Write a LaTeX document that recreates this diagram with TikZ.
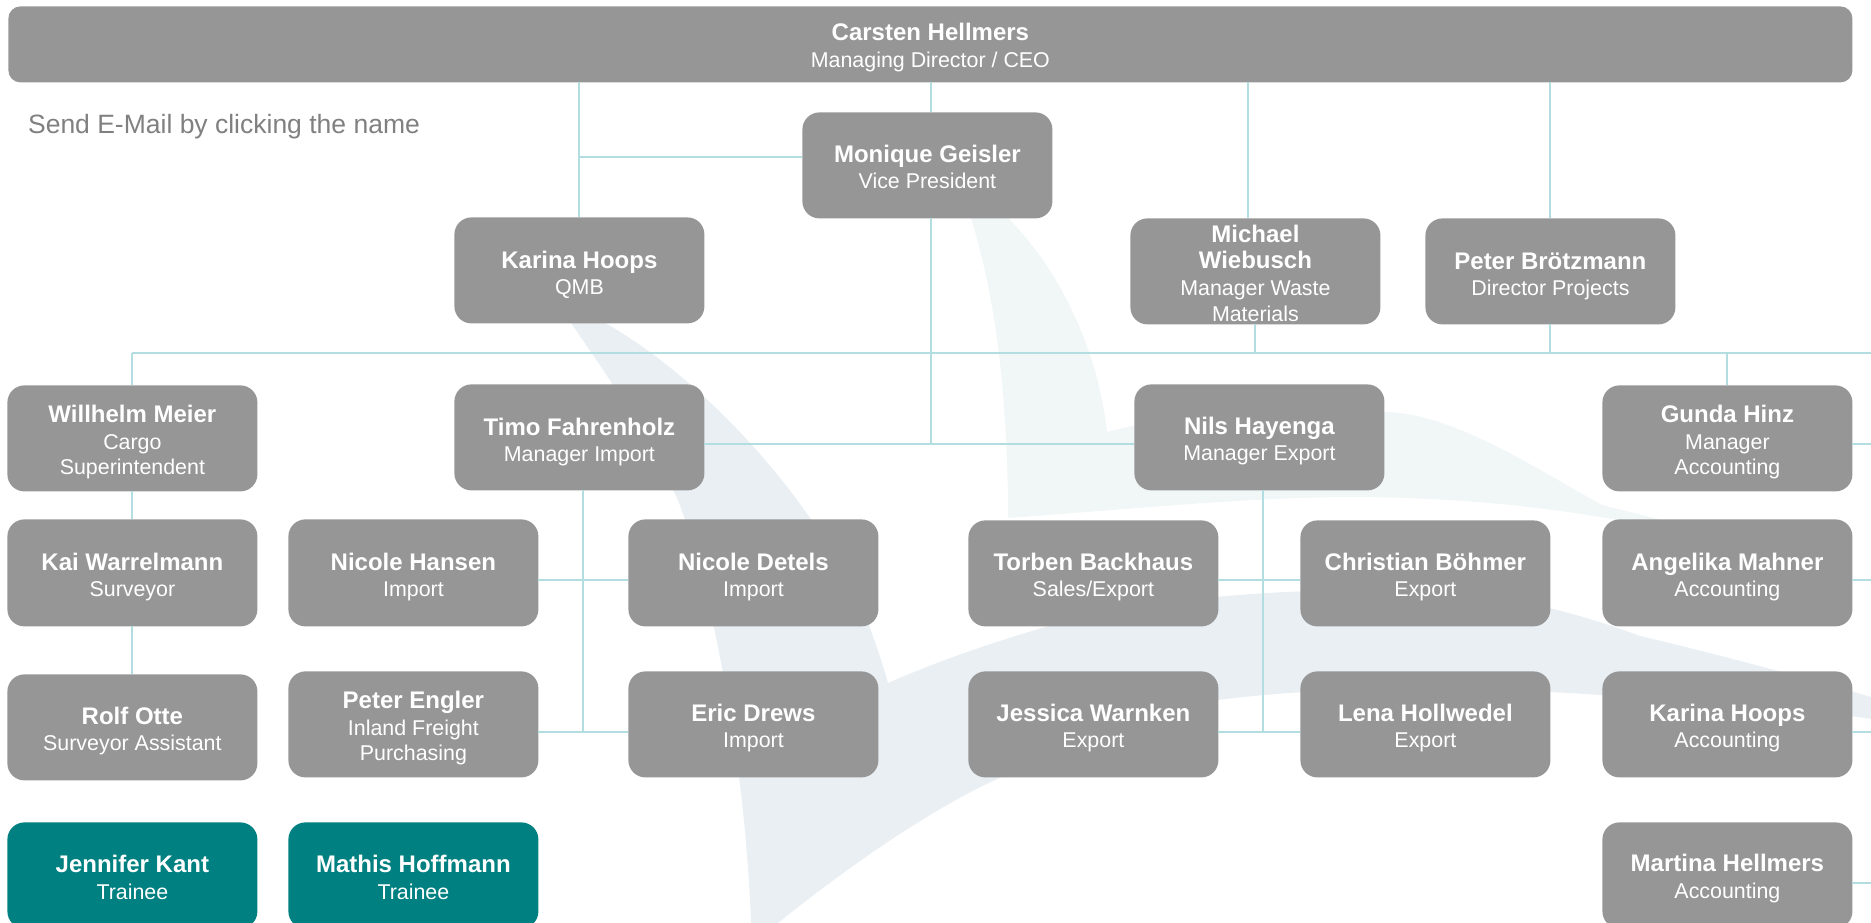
\documentclass[tikz,border=0pt]{standalone}
\usepackage{fontspec}
\setmainfont{Liberation Sans}
\definecolor{boxgray}{HTML}{969696}
\definecolor{traineeteal}{HTML}{008080}
\definecolor{linkline}{HTML}{B2DDE1}
\definecolor{sailA}{HTML}{E9EFF3}
\definecolor{sailB}{HTML}{F1F6F7}
\definecolor{hintgray}{HTML}{808080}
\newcommand{\nm}[1]{{\fontsize{24}{26.5}\selectfont\bfseries #1\par}}
\newcommand{\st}[1]{{\fontsize{21.4}{26.5}\selectfont #1\par}}
\newcommand{\sx}[1]{{\fontsize{21.4}{25}\selectfont #1\par}}
\newcommand{\pers}[8][staffbox]{%
  \pgfmathsetmacro{\bcx}{(#3+#5)/2}\pgfmathsetmacro{\bcy}{(#4+#6)/2}%
  \pgfmathsetmacro{\bw}{#5-#3}\pgfmathsetmacro{\bh}{#6-#4}%
  \pgfmathsetmacro{\brs}{\bcy-#7-0.6}%
  \node[#1,minimum width=\bw pt,minimum height=\bh pt] (#2) at (\bcx,\bcy)
    {\raisebox{\brs pt}[0pt][0pt]{\vtop{\hsize=\bw pt\parindent=0pt\parskip=0pt\lineskiplimit=-100pt\lineskip=0pt\centering #8}}};%
}
\tikzset{
  staffbox/.style={fill=boxgray,text=white,rounded corners=17pt,inner sep=0pt,outer sep=0pt,draw=none},
  traineebox/.style={staffbox,fill=traineeteal},
  ceobox/.style={staffbox,rounded corners=12pt},
  conn/.style={draw=linkline,line width=1.9pt},
  hint/.style={text=hintgray,font=\fontsize{26.5}{30}\selectfont,anchor=base west,inner sep=0pt}
}
\begin{document}
\begin{tikzpicture}[x=1pt,y=-1pt]
\useasboundingbox (0,0) rectangle (1871,923);
\clip (0,0) rectangle (1871,923);
% watermark
\fill[sailA] (555,300) .. controls (600,365) and (650,435) .. (679,503)
  .. controls (712,590) and (745,760) .. (751,923) -- (778,923)
  .. controls (850,865) and (930,810) .. (997,779)
  .. controls (1080,740) and (1150,712) .. (1218,700)
  .. controls (1340,684) and (1500,688) .. (1600,695)
  .. controls (1700,702) and (1800,708) .. (1871,719) -- (1871,697)
  .. controls (1800,676) and (1700,650) .. (1640,636)
  .. controls (1560,606) and (1480,590) .. (1400,590)
  .. controls (1280,588) and (1130,600) .. (1049,626)
  .. controls (1000,640) and (940,660) .. (888,683)
  .. controls (870,620) and (850,575) .. (810,518)
  .. controls (760,445) and (680,365) .. (605,323) -- cycle;
\fill[sailB] (945,150) .. controls (975,215) and (1008,320) .. (1008,518)
  .. controls (1120,510) and (1250,497) .. (1350,497)
  .. controls (1470,497) and (1600,510) .. (1730,545)
  .. controls (1690,525) and (1640,515) .. (1602,505)
  .. controls (1530,465) and (1450,412) .. (1383,412)
  .. controls (1300,405) and (1190,410) .. (1107,432)
  .. controls (1098,350) and (1060,270) .. (1008,218)
  .. controls (990,195) and (965,170) .. (945,150) -- cycle;
\begin{scope}[shift={(0.4,0.4)}]
% boxes
\pers[ceobox]{ceo}{8}{6}{1852}{82}{40}{\nm{Carsten Hellmers}\st{Managing Director / CEO}}
\pers{mon}{802}{112}{1052}{218}{161}{\nm{Monique Geisler}\st{Vice President}}
\pers{kq}{454}{217}{704}{323}{267}{\nm{Karina Hoops}\st{QMB}}
\pers{mw}{1130}{218}{1380}{324}{241}{\nm{Michael}\nm{Wiebusch}\st{Manager Waste}\st{Materials}}
\pers{pb}{1425}{218}{1675}{324}{268}{\nm{Peter Brötzmann}\st{Director Projects}}
\pers{wm}{7}{385}{257}{491}{421.7}{\nm{Willhelm Meier}\st{Cargo}\sx{Superintendent}}
\pers{tf}{454}{384}{704}{490}{434}{\nm{Timo Fahrenholz}\st{Manager Import}}
\pers{nh}{1134}{384}{1384}{490}{433}{\nm{Nils Hayenga}\st{Manager Export}}
\pers{gh}{1602}{385}{1852}{491}{421.7}{\nm{Gunda Hinz}\st{Manager}\sx{Accounting}}
\pers{kw}{7}{519}{257}{626}{569}{\nm{Kai Warrelmann}\st{Surveyor}}
\pers{nha}{288}{519}{538}{626}{569}{\nm{Nicole Hansen}\st{Import}}
\pers{nd}{628}{519}{878}{626}{569}{\nm{Nicole Detels}\st{Import}}
\pers{tb}{968}{520}{1218}{626}{569}{\nm{Torben Backhaus}\st{Sales/Export}}
\pers{cb}{1300}{520}{1550}{626}{569}{\nm{Christian Böhmer}\st{Export}}
\pers{am}{1602}{519}{1852}{626}{569}{\nm{Angelika Mahner}\st{Accounting}}
\pers{ro}{7}{674}{257}{780}{723}{\nm{Rolf Otte}\st{Surveyor Assistant}}
\pers{pe}{288}{671}{538}{777}{707.7}{\nm{Peter Engler}\st{Inland Freight}\sx{Purchasing}}
\pers{ed}{628}{671}{878}{777}{720}{\nm{Eric Drews}\st{Import}}
\pers{jw}{968}{671}{1218}{777}{720}{\nm{Jessica Warnken}\st{Export}}
\pers{lh}{1300}{671}{1550}{777}{720}{\nm{Lena Hollwedel}\st{Export}}
\pers{ka}{1602}{671}{1852}{777}{720}{\nm{Karina Hoops}\st{Accounting}}
\pers[traineebox]{jk}{7}{822}{257}{928}{871.7}{\nm{Jennifer Kant}\st{Trainee}}
\pers[traineebox]{mh}{288}{822}{538}{928}{871.7}{\nm{Mathis Hoffmann}\st{Trainee}}
\pers{mhe}{1602}{822}{1852}{928}{870.7}{\nm{Martina Hellmers}\st{Accounting}}
\node[hint] (note) at (27.5,133.3) {Send E-Mail by clicking the name};
% junctions
\coordinate (trunk) at (931,444);
\coordinate (qmbj) at (579,157);
\coordinate (wmx) at (1248,150);
\coordinate (busL) at (132,353);
\coordinate (busR) at (1871,353);
\coordinate (impx) at (583,580);
\coordinate (impy) at (583,732);
\coordinate (expx) at (1263,580);
\coordinate (expy) at (1263,732);
\coordinate (ge) at (1871,444);
\coordinate (ae) at (1871,580);
\coordinate (ke) at (1871,732);
\coordinate (me) at (1871,883);
% connectors
\draw[conn] (ceo.south -| kq.north) -- (kq.north);
\draw[conn] (ceo.south -| trunk) -- (mon.north -| trunk);
\draw[conn] (mon.south -| trunk) -- (trunk);
\draw[conn] (qmbj) -- (mon.west |- qmbj);
\draw[conn] (ceo.south -| wmx) -- (mw.north -| wmx);
\draw[conn] (ceo.south -| pb.north) -- (pb.north);
\draw[conn] (busL) -- (busR);
\draw[conn] (busL) -- (wm.north -| busL);
\draw[conn] (mw.south) -- (mw.south |- busL);
\draw[conn] (pb.south) -- (pb.south |- busL);
\draw[conn] (gh.north |- busL) -- (gh.north);
\draw[conn] (tf.east |- trunk) -- (nh.west |- trunk);
\draw[conn] (wm.south -| busL) -- (kw.north -| busL);
\draw[conn] (kw.south -| busL) -- (ro.north -| busL);
\draw[conn] (tf.south -| impy) -- (impy);
\draw[conn] (nha.east |- impx) -- (nd.west |- impx);
\draw[conn] (pe.east |- impy) -- (ed.west |- impy);
\draw[conn] (nh.south -| expy) -- (expy);
\draw[conn] (tb.east |- expx) -- (cb.west |- expx);
\draw[conn] (jw.east |- expy) -- (lh.west |- expy);
\draw[conn] (gh.east |- ge) -- (ge);
\draw[conn] (am.east |- ae) -- (ae);
\draw[conn] (ka.east |- ke) -- (ke);
\draw[conn] (mhe.east |- me) -- (me);
\end{scope}
\end{tikzpicture}
\end{document}
